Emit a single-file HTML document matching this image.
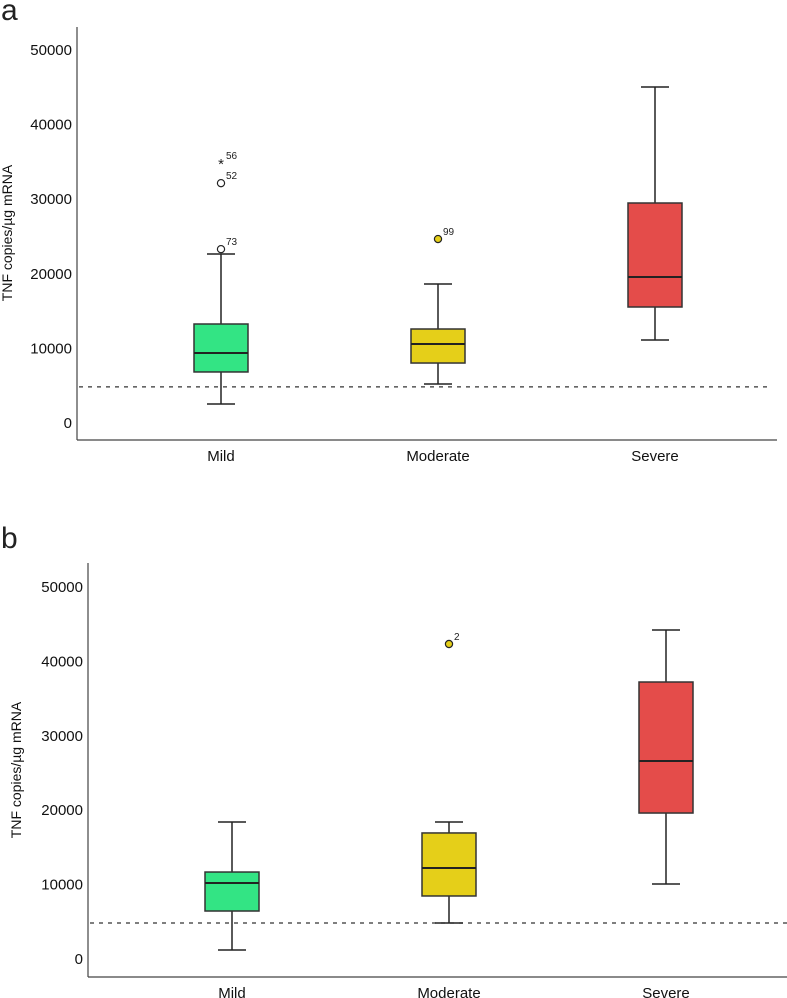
<!DOCTYPE html>
<html><head><meta charset="utf-8"><style>
html,body{margin:0;padding:0;background:#fff;}
svg{display:block;font-family:"Liberation Sans",sans-serif;}
</style></head><body>
<svg id="chart" width="787" height="998" viewBox="0 0 787 998"></svg>
<script>
const categories = ["Mild", "Moderate", "Severe"];
const yTicks = [0, 10000, 20000, 30000, 40000, 50000];
const threshold = 4840;
// panel a
const aWhiskerLow = [2550, 5230, 11130];
const aQ1 = [6840, 8040, 15550];
const aMedian = [9380, 10590, 19570];
const aQ3 = [13270, 12600, 29490];
const aWhiskerHigh = [22650, 18630, 45040];
const aOutlierValues = [23300, 32150, 34850, 24660];
const aOutlierGroup = [0, 0, 0, 1];
const aOutlierLabels = ["73", "52", "56", "99"];
const aOutlierExtreme = [false, false, true, false];
// panel b
const bWhiskerLow = [1210, 4840, 10080];
const bQ1 = [6450, 8470, 19620];
const bMedian = [10210, 12230, 26610];
const bQ3 = [11690, 16940, 37230];
const bWhiskerHigh = [18410, 18410, 44220];
const bOutlierValues = [42340];
const bOutlierGroup = [1];
const bOutlierLabels = ["2"];
const bOutlierExtreme = [false];

const colors = ["#33e484", "#e5cf19", "#e44c4a"];
const outlierFill = ["#fff", "#e5cf19", "#e44c4a"];
const NS = "http://www.w3.org/2000/svg";
const svg = document.getElementById("chart");
function mk(tag, attrs, parent, text) {
  const e = document.createElementNS(NS, tag);
  for (const k in attrs) e.setAttribute(k, attrs[k]);
  if (text !== undefined) e.textContent = text;
  (parent || svg).appendChild(e);
  return e;
}

function panel(cfg) {
  const g = mk("g", {});
  
  
  const y = v => cfg.y0 - (v / 10000) * cfg.pxPer10k;
  const x = i => cfg.xs[i];
  const lbl = mk("text", {x: 1, y: cfg.letterY, "font-size": 30, fill: "#222", "font-weight": 300}, g, cfg.letter);
  
  
  const ya = mk("line", {x1: cfg.axisX, y1: cfg.axisTop, x2: cfg.axisX, y2: cfg.axisBottom, stroke: "#444", "stroke-width": 1.2}, g);
  
  
  const xa = mk("line", {x1: cfg.axisX, y1: cfg.axisBottom, x2: cfg.axisRight, y2: cfg.axisBottom, stroke: "#444", "stroke-width": 1.2}, g);
  
  
  yTicks.forEach(t => {
    const tl = mk("text", {x: cfg.axisX - 5, y: y(t) + 5, "font-size": 15, "text-anchor": "end", fill: "#111"}, g, String(t));
    
    
  });
  const yt = mk("text", {x: 0, y: 0, "font-size": 14, "text-anchor": "middle", fill: "#111",
    transform: `translate(${cfg.titleX},${cfg.titleY}) rotate(-90)`}, g, "TNF copies/µg mRNA");
  
  
  const dl = mk("line", {x1: cfg.axisX + 2, y1: y(threshold), x2: cfg.dashRight, y2: y(threshold), stroke: "#333", "stroke-width": 1.3, "stroke-dasharray": "4,5"}, g);
  
  
  categories.forEach((c, i) => {
    const cx = x(i), hw = 27, cw = 14;
    const bg = mk("g", {}, g);
    
    
    mk("line", {x1: cx, y1: y(cfg.hi[i]), x2: cx, y2: y(cfg.q3[i]), stroke: "#222", "stroke-width": 1.5}, bg);
    mk("line", {x1: cx, y1: y(cfg.lo[i]), x2: cx, y2: y(cfg.q1[i]), stroke: "#222", "stroke-width": 1.5}, bg);
    mk("line", {x1: cx - cw, y1: y(cfg.hi[i]), x2: cx + cw, y2: y(cfg.hi[i]), stroke: "#222", "stroke-width": 1.5}, bg);
    mk("line", {x1: cx - cw, y1: y(cfg.lo[i]), x2: cx + cw, y2: y(cfg.lo[i]), stroke: "#222", "stroke-width": 1.5}, bg);
    mk("rect", {x: cx - hw, y: y(cfg.q3[i]), width: hw * 2, height: y(cfg.q1[i]) - y(cfg.q3[i]), fill: colors[i], stroke: "#333", "stroke-width": 1.5}, bg);
    mk("line", {x1: cx - hw, y1: y(cfg.med[i]), x2: cx + hw, y2: y(cfg.med[i]), stroke: "#222", "stroke-width": 2}, bg);
    const xl = mk("text", {x: cx, y: cfg.labelY, "font-size": 15, "text-anchor": "middle", fill: "#111"}, g, c);
    
    
  });
  cfg.ov.forEach((v, k) => {
    const gi = cfg.og[k], cx = x(gi), cy = y(v);
    let m;
    if (cfg.oe[k]) {
      m = mk("text", {x: cx, y: cy + 6, "font-size": 15, "text-anchor": "middle", fill: "#222"}, g, "*");
    } else {
      m = mk("circle", {cx: cx, cy: cy, r: 3.6, fill: outlierFill[gi], stroke: "#222", "stroke-width": 1.2}, g);
    }
    
    
    const ol = mk("text", {x: cx + 5, y: cy - 4, "font-size": 10, fill: "#222"}, g, cfg.ol[k]);
    
    
  });
}

panel({name: "panel-a", letter: "a", letterY: 20, y0: 423, pxPer10k: 74.6, axisX: 77, axisTop: 27, axisBottom: 440, axisRight: 777,
  dashRight: 772, xs: [221, 438, 655], labelY: 461, titleX: 12, titleY: 233,
  lo: aWhiskerLow, q1: aQ1, med: aMedian, q3: aQ3, hi: aWhiskerHigh,
  ov: aOutlierValues, og: aOutlierGroup, ol: aOutlierLabels, oe: aOutlierExtreme});
panel({name: "panel-b", letter: "b", letterY: 548, y0: 959, pxPer10k: 74.4, axisX: 88, axisTop: 563, axisBottom: 977, axisRight: 787,
  dashRight: 787, xs: [232, 449, 666], labelY: 998, titleX: 21, titleY: 770,
  lo: bWhiskerLow, q1: bQ1, med: bMedian, q3: bQ3, hi: bWhiskerHigh,
  ov: bOutlierValues, og: bOutlierGroup, ol: bOutlierLabels, oe: bOutlierExtreme});
</script>
</body></html>
